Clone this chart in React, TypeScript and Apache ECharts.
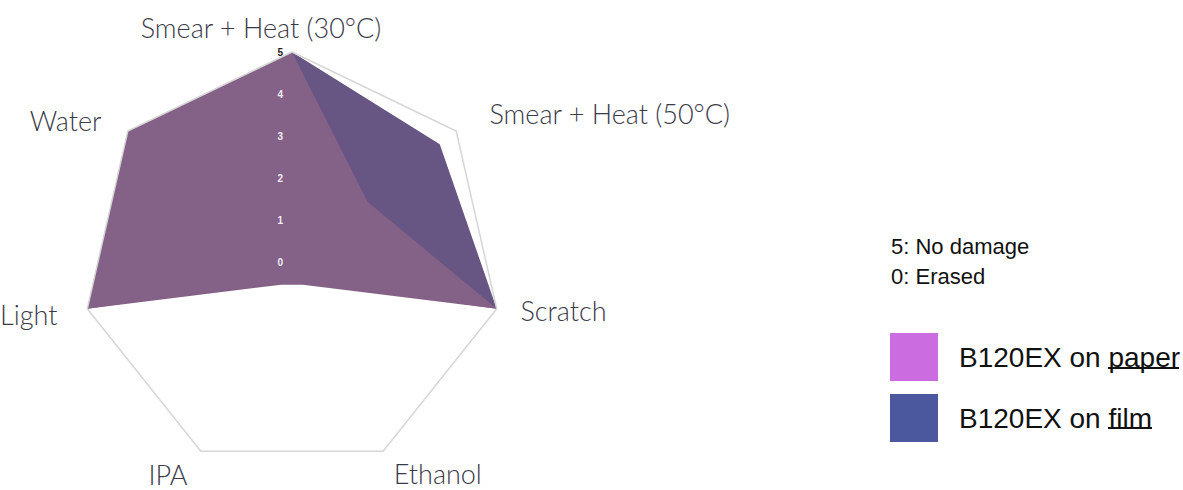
import React, { useEffect, useRef } from "react";
import * as echarts from "echarts";

const indicatorNames = [
  "Smear + Heat (30°C)",
  "Water",
  "Light",
  "IPA",
  "Ethanol",
  "Scratch",
  "Smear + Heat (50°C)",
];
const axisMax = 5;
const paperValues = [5, 5, 5, 0.6, 0.6, 5, 2.3];
const filmValues = [5, 5, 5, 0.5, 0.5, 5, 4.5];
const seriesNames = ["B120EX on paper", "B120EX on film"];
const scaleNotes = ["5: No damage", "0: Erased"];

// per-indicator name placement (layout only)
const nameGaps = [11.5, 17.6, 26, 25.8, 24.6, 8, 28.9];
const namePadding = [
  [0, 62, 0, 0],
  [0, 12.5, 0, 0],
  [0, 4.5, 0, 0],
  [0, 2.3, 0, 0],
  [0, 0, 0, 0],
  [0, 0, 0, 16],
  [0, 0, 0, 10.7],
];

export default function App() {
  const ref = useRef<HTMLDivElement>(null);
  useEffect(() => {
    if (!ref.current) return;
    const chart = echarts.init(ref.current, null, { renderer: "svg" });
    const option = {
      animation: false,
      backgroundColor: "#ffffff",
      title: {
        text: scaleNotes.join("\n"),
        left: 886,
        top: 226,
        textStyle: {
          fontFamily: "Liberation Sans",
          fontSize: 22,
          fontWeight: "normal",
          color: "#111111",
          lineHeight: 30,
        },
      },
      legend: {
        orient: "vertical",
        left: 890,
        top: 333,
        padding: 0,
        itemWidth: 48,
        itemHeight: 48,
        itemGap: 13,
        icon: "rect",
        selectedMode: false,
        data: [
          { name: seriesNames[0], itemStyle: { color: "#cb6ce0", borderWidth: 0 } },
          { name: seriesNames[1], itemStyle: { color: "#4b589d", borderWidth: 0 } },
        ],
        textStyle: {
          fontFamily: "Liberation Sans",
          fontSize: 28,
          color: "#111111",
          padding: [0, 0, 0, 16],
        },
      },
      radar: {
        z: 10,
        center: [292, 262],
        radius: 210,
        startAngle: 90,
        shape: "polygon",
        splitNumber: 5,
        axisNameGap: 8,
        axisName: {
          fontFamily: "Lato",
          fontWeight: 300,
          fontSize: 27,
          color: "#3a3a48",
        },
        indicator: indicatorNames.map((n, i) => ({
          name: n,
          min: 0,
          max: axisMax,
          nameGap: nameGaps[i],
          nameTextStyle: { padding: namePadding[i] },
          axisLabel:
            i === 0
              ? {
                  show: true,
                  fontSize: 10,
                  fontWeight: "bold",
                  fontFamily: "Liberation Sans",
                  margin: 9,
                  color: (v: any) => (String(v) === "5" ? "#222222" : "#f2eef6"),
                }
              : { show: false },
        })),
        axisLine: { show: false },
        axisTick: { show: false },
        axisLabel: { show: false },
        splitArea: { show: false },
        splitLine: {
          lineStyle: {
            color: [
              "rgba(0,0,0,0)",
              "rgba(0,0,0,0)",
              "rgba(0,0,0,0)",
              "rgba(0,0,0,0)",
              "rgba(0,0,0,0)",
              "#d6d6d6",
            ],
            width: 1.5,
          },
        },
      },
      series: [
        {
          type: "radar",
          name: seriesNames[1],
          symbol: "none",
          z: 2,
          lineStyle: { width: 0, color: "#675583" },
          itemStyle: { color: "#675583" },
          areaStyle: { color: "#675583", opacity: 1 },
          data: [{ name: seriesNames[1], value: filmValues }],
        },
        {
          type: "radar",
          name: seriesNames[0],
          symbol: "none",
          z: 3,
          lineStyle: { width: 0, color: "#846186" },
          itemStyle: { color: "#846186" },
          areaStyle: { color: "#846186", opacity: 1 },
          data: [{ name: seriesNames[0], value: paperValues }],
        },
      ],
      graphic: [
        { type: "line", shape: { x1: 1108, y1: 368, x2: 1179, y2: 368 }, style: { stroke: "#111", lineWidth: 2 } },
        { type: "line", shape: { x1: 1108, y1: 428, x2: 1152, y2: 428 }, style: { stroke: "#111", lineWidth: 2 } },
      ],
    };
    chart.setOption(option as any);
    return () => chart.dispose();
  }, []);
  return (
    <div
      ref={ref}
      style={{ position: "fixed", left: 0, top: 0, width: 1183, height: 490 }}
    />
  );
}
